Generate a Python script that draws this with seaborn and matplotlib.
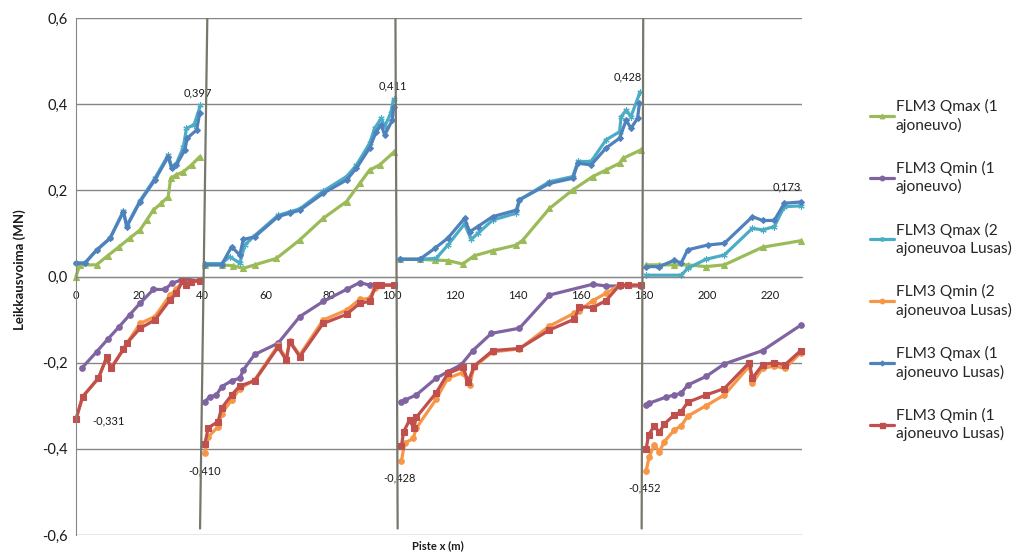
import numpy as np
import pandas as pd
import seaborn as sns
import matplotlib
matplotlib.use("Agg")
import matplotlib.pyplot as plt
from matplotlib.lines import Line2D
from matplotlib.ticker import FuncFormatter, MultipleLocator

# ---- data, one list per span (0-40, 40-101, 101-180, 180-230) ----
# FLM3 Qmax (1 ajoneuvo)
qmax1_x = [[0, 1.2, 6.5, 10, 13.5, 17, 20.3, 22.5, 24.5, 27, 29.2, 30, 31.8, 34, 36.6, 39.2],
           [40.8, 46.1, 49.7, 53, 56.6, 63.5, 70.9, 78.3, 85.7, 89.9, 93, 96.2, 100.9],
           [102.5, 108.9, 113.6, 117.8, 122.5, 126.1, 132, 139.5, 141.6, 150, 157.4, 163.7, 167.9, 172.2, 173.2, 179],
           [180.6, 184.8, 189.6, 193.8, 199.6, 205.4, 217.5, 229.6]]
qmax1_y = [[0.0, 0.027, 0.027, 0.048, 0.068, 0.089, 0.108, 0.132, 0.154, 0.170, 0.185, 0.228, 0.236, 0.243, 0.259, 0.278],
           [0.027, 0.027, 0.025, 0.019, 0.027, 0.042, 0.085, 0.135, 0.174, 0.216, 0.247, 0.259, 0.290],
           [0.040, 0.040, 0.038, 0.037, 0.029, 0.048, 0.060, 0.073, 0.085, 0.158, 0.201, 0.232, 0.247, 0.263, 0.274, 0.294],
           [0.027, 0.027, 0.027, 0.027, 0.023, 0.027, 0.068, 0.083]]

# FLM3 Qmin (1 ajoneuvo)
qmin1_x = [[1.8, 6.5, 10, 13.5, 17, 20.3, 24.5, 28.2, 30.3, 33.4, 35.5, 39.2],
           [40.8, 42.4, 44.5, 46.1, 49.3, 51.9, 53, 56.6, 64, 70.9, 78.3, 85.7, 89.9, 93, 96.2, 100.6],
           [103.1, 104.1, 107.8, 114.1, 117.8, 122, 125.7, 131.6, 140.5, 150, 163.7, 167.9, 172.2, 179],
           [180.6, 181.6, 186.9, 189.6, 191.7, 193.8, 199.6, 205.4, 217.5, 229.6]]
qmin1_y = [[-0.213, -0.175, -0.146, -0.118, -0.089, -0.062, -0.030, -0.030, -0.016, -0.008, -0.007, -0.010],
           [-0.291, -0.279, -0.275, -0.256, -0.242, -0.236, -0.217, -0.181, -0.155, -0.093, -0.058, -0.030, -0.014, -0.020, -0.020, -0.020],
           [-0.291, -0.287, -0.275, -0.236, -0.221, -0.205, -0.172, -0.132, -0.120, -0.043, -0.018, -0.022, -0.022, -0.022],
           [-0.298, -0.294, -0.280, -0.275, -0.271, -0.252, -0.232, -0.203, -0.172, -0.113]]

# FLM3 Qmax (2 ajoneuvoa Lusas)
qmax2l_x = [[0, 2.8, 6.5, 10.8, 15, 16.1, 20.3, 25, 29.2, 30.3, 31.8, 34, 35, 37.4, 39.4],
            [40.8, 46.1, 48.7, 51.9, 53.5, 56.6, 64, 67.7, 70.9, 78.3, 85.7, 88.8, 93, 94.6, 96.7, 97.8, 99.7, 100.6],
            [102.5, 108.9, 114.1, 117.8, 123.1, 125.2, 127.3, 132, 139.5, 140.5, 150, 157.4, 159, 163.2, 167.9, 172.2, 172.7, 174.3, 175.8, 178.7],
            [180.6, 191.7, 193.8, 199.6, 205.4, 214.3, 217.5, 221.2, 224.4, 229.6]]
qmax2l_y = [[0.031, 0.031, 0.061, 0.089, 0.152, 0.118, 0.176, 0.228, 0.282, 0.255, 0.262, 0.300, 0.344, 0.352, 0.397],
            [0.030, 0.030, 0.046, 0.031, 0.073, 0.095, 0.142, 0.150, 0.157, 0.198, 0.232, 0.258, 0.309, 0.344, 0.367, 0.348, 0.379, 0.411],
            [0.040, 0.040, 0.042, 0.073, 0.122, 0.086, 0.100, 0.131, 0.147, 0.178, 0.220, 0.232, 0.267, 0.267, 0.317, 0.336, 0.371, 0.386, 0.371, 0.428],
            [0.003, 0.003, 0.019, 0.040, 0.050, 0.112, 0.108, 0.116, 0.162, 0.164]]

# FLM3 Qmin (2 ajoneuvoa Lusas)
qmin2l_x = [[0, 2.1, 7.1, 9.7, 11.1, 15, 16.1, 20.3, 25, 29.7, 31.8, 33.8, 34.9, 36.5, 39.2],
            [40.8, 41.9, 45, 46.1, 49.3, 51.9, 56.6, 64, 66.6, 67.7, 70.9, 78.3, 85.7, 89.9, 93, 94.6, 96.2, 100.6],
            [103.1, 104.1, 106.8, 107.8, 114.1, 117.8, 122.5, 124.7, 126.1, 132, 140.5, 150, 157.9, 159.5, 163.7, 167.9, 172.2, 175, 179],
            [180.6, 181.6, 183.2, 184.8, 186.4, 189.6, 191.7, 193.8, 199.6, 205.4, 213.3, 214.3, 217.5, 221.2, 224.6, 229.6]]
qmin2l_y = [[-0.331, -0.279, -0.236, -0.188, -0.213, -0.169, -0.155, -0.109, -0.093, -0.044, -0.030, -0.010, -0.018, -0.012, -0.010],
            [-0.410, -0.372, -0.349, -0.318, -0.287, -0.260, -0.240, -0.160, -0.190, -0.150, -0.182, -0.101, -0.078, -0.053, -0.051, -0.026, -0.020, -0.020],
            [-0.428, -0.387, -0.376, -0.352, -0.285, -0.236, -0.223, -0.252, -0.210, -0.175, -0.168, -0.115, -0.085, -0.079, -0.056, -0.039, -0.020, -0.020, -0.020],
            [-0.452, -0.418, -0.391, -0.407, -0.383, -0.356, -0.347, -0.324, -0.300, -0.275, -0.208, -0.247, -0.213, -0.208, -0.213, -0.177]]

# FLM3 Qmax (1 ajoneuvo Lusas)
qmax1l_x = [[0, 2.8, 6.5, 10.8, 15, 16.1, 20.3, 25, 29.2, 30.3, 31.8, 34.5, 35.2, 38.2, 39.2],
            [40.8, 46.1, 49.3, 51.9, 53, 56.6, 64, 67.7, 70.9, 78.3, 85.7, 88.8, 93, 95.1, 96.7, 97.8, 100.2, 100.6],
            [102.5, 108.9, 113.6, 117.8, 123.1, 124.7, 127.3, 132, 139.5, 140.5, 150, 157.4, 159, 163.2, 167.9, 172.2, 174.3, 175.8, 177.9, 178.5],
            [180.6, 184.8, 189.6, 191.7, 193.8, 200.1, 205.4, 214.3, 217.5, 221.2, 224.4, 229.6]]
qmax1l_y = [[0.031, 0.031, 0.061, 0.089, 0.150, 0.116, 0.174, 0.224, 0.278, 0.251, 0.259, 0.294, 0.321, 0.340, 0.379],
            [0.027, 0.027, 0.069, 0.050, 0.086, 0.092, 0.139, 0.147, 0.154, 0.193, 0.224, 0.251, 0.298, 0.336, 0.352, 0.328, 0.363, 0.394],
            [0.040, 0.040, 0.065, 0.089, 0.135, 0.104, 0.116, 0.139, 0.154, 0.178, 0.216, 0.228, 0.263, 0.259, 0.298, 0.321, 0.363, 0.344, 0.367, 0.402],
            [0.023, 0.023, 0.038, 0.031, 0.062, 0.073, 0.077, 0.139, 0.130, 0.130, 0.170, 0.173]]

# FLM3 Qmin (1 ajoneuvo Lusas)
qmin1l_x = [[0, 2.1, 7.1, 9.7, 11.1, 15, 16.1, 20.3, 25, 29.7, 31.8, 33.8, 34.9, 36.5, 39.2],
            [40.8, 41.9, 45, 46.1, 49.3, 51.9, 56.6, 64, 66.6, 67.7, 70.9, 78.3, 85.7, 89.9, 93, 95.1, 96.7, 100.6],
            [103.1, 103.8, 105.7, 107, 107.8, 114.1, 117.8, 122.5, 124.3, 126.1, 132, 140.5, 150, 157.9, 159.5, 163.7, 167.9, 172.2, 175, 179],
            [180.6, 181.4, 183.2, 184.8, 186.4, 189.6, 191.7, 193.8, 199.6, 205.4, 213.3, 214.3, 217.5, 221.2, 224.6, 229.6]]
qmin1l_y = [[-0.331, -0.279, -0.236, -0.188, -0.213, -0.169, -0.155, -0.120, -0.101, -0.055, -0.039, -0.010, -0.020, -0.012, -0.010],
            [-0.389, -0.351, -0.337, -0.306, -0.275, -0.254, -0.242, -0.164, -0.194, -0.151, -0.186, -0.109, -0.088, -0.062, -0.058, -0.020, -0.020, -0.020],
            [-0.393, -0.360, -0.333, -0.352, -0.327, -0.270, -0.225, -0.211, -0.244, -0.208, -0.172, -0.167, -0.124, -0.099, -0.070, -0.072, -0.056, -0.020, -0.020, -0.020],
            [-0.401, -0.368, -0.347, -0.362, -0.342, -0.321, -0.314, -0.292, -0.275, -0.260, -0.200, -0.236, -0.205, -0.200, -0.205, -0.172]]

series_names = ["FLM3 Qmax (1\najoneuvo)", "FLM3 Qmin (1\najoneuvo)",
                "FLM3 Qmax (2\najoneuvoa Lusas)", "FLM3 Qmin (2\najoneuvoa Lusas)",
                "FLM3 Qmax (1\najoneuvo Lusas)", "FLM3 Qmin (1\najoneuvo Lusas)"]
series_x = [qmax1_x, qmin1_x, qmax2l_x, qmin2l_x, qmax1l_x, qmin1l_x]
series_y = [qmax1_y, qmin1_y, qmax2l_y, qmin2l_y, qmax1l_y, qmin1l_y]
colors = ["#9BBB59", "#8064A2", "#4BACC6", "#F79646", "#4F81BD", "#C0504D"]
markers = ["^", "o", (6, 2, 0), "o", "D", "s"]
msizes = [4, 4, 4.5, 4, 3, 4.5]

# support lines (x at top, x at bottom)
support_x = [(41.6, 39.3), (101.2, 101.9), (179.7, 179.2)]
support_y = (0.6, -0.585)

# data labels: (x, y, text, offset px)
labels = [(39.4, 0.397, "0,397", (-2, 13)), (100.6, 0.411, "0,411", (-1, 14)),
          (178.7, 0.428, "0,428", (-12, 15)), (229.6, 0.173, "0,173", (-14, 15)),
          (0, -0.331, "-0,331", (32, -2)), (40.8, -0.410, "-0,410", (0, -18)),
          (103.1, -0.428, "-0,428", (-2, -17)), (180.6, -0.452, "-0,452", (-2, -17))]

rows = []
for name, xs, ys in zip(series_names, series_x, series_y):
    for span, (sx, sy) in enumerate(zip(xs, ys)):
        for a, b in zip(sx, sy):
            rows.append((name, span, a, b))
df = pd.DataFrame(rows, columns=["series", "span", "x", "y"])

sns.set_style("white")
plt.rcParams["font.family"] = ["Lato", "DejaVu Sans"]

fig = plt.figure(figsize=(10.23, 5.55), dpi=100)
ax = fig.add_axes([76 / 1023, 1 - 535 / 555, (802 - 76) / 1023, (535 - 18) / 555])

handles = []
for name, c, m, ms in zip(series_names, colors, markers, msizes):
    sub = df[df["series"] == name]
    sns.lineplot(data=sub, x="x", y="y", units="span", estimator=None, sort=False,
                 color=c, marker=m, markersize=ms, markeredgecolor=c, markeredgewidth=0.8,
                 linewidth=2.3, ax=ax, legend=False, clip_on=False)
    handles.append(Line2D([], [], color=c, marker=m, markersize=ms * 0.8,
                          markeredgecolor=c, linewidth=2.3))

for (xt, xb) in support_x:
    ax.plot([xt, xb], support_y, color="#77776B", linewidth=1.6, zorder=5)

for (lx, ly, txt, off) in labels:
    ax.annotate(txt, (lx, ly), xytext=off, textcoords="offset pixels",
                ha="center", va="center", fontsize=8, color="#1a1a1a")

ax.set_xlim(0, 230)
ax.set_ylim(-0.6, 0.6)
ax.yaxis.set_major_locator(MultipleLocator(0.2))
ax.xaxis.set_major_locator(MultipleLocator(20))
ax.yaxis.set_major_formatter(FuncFormatter(lambda v, p: f"{v:.1f}".replace(".", ",").replace("-0,0", "0,0")))
ax.xaxis.set_major_formatter(FuncFormatter(lambda v, p: f"{v:.0f}" if v <= 220 else ""))
ax.grid(axis="y", color="#868686", linewidth=1.0)
ax.grid(axis="x", visible=False)
for s in ["top", "right"]:
    ax.spines[s].set_visible(False)
ax.spines["bottom"].set_position(("data", 0))
ax.spines["bottom"].set_color("#868686")
ax.spines["left"].set_color("#868686")
ax.tick_params(axis="x", direction="inout", length=6, width=1, color="#868686",
               labelsize=8, pad=7, labelcolor="#1a1a1a")
ax.tick_params(axis="y", direction="out", length=3, width=1, color="#868686",
               labelsize=10.5, pad=3, labelcolor="#1a1a1a")
ax.set_xlabel("")
ax.set_ylabel("")

fig.text(20 / 1023, 1 - 270 / 555, "Leikkausvoima (MN)", rotation=90, ha="center", va="center",
         fontsize=9.5, fontweight="bold", color="#1a1a1a")
fig.text(438 / 1023, 1 - 546 / 555, "Piste x (m)", ha="center", va="center",
         fontsize=8, fontweight="bold", color="#1a1a1a")

leg = fig.legend(handles, series_names, loc="upper left", bbox_to_anchor=(870 / 1023, 1 - 99 / 555),
                 frameon=False, fontsize=11.2, handlelength=1.55, handletextpad=0.12,
                 labelspacing=1.8, borderaxespad=0, borderpad=0)
for t in leg.get_texts():
    t.set_linespacing(1.3)

fig.savefig("out.png", dpi=100)
